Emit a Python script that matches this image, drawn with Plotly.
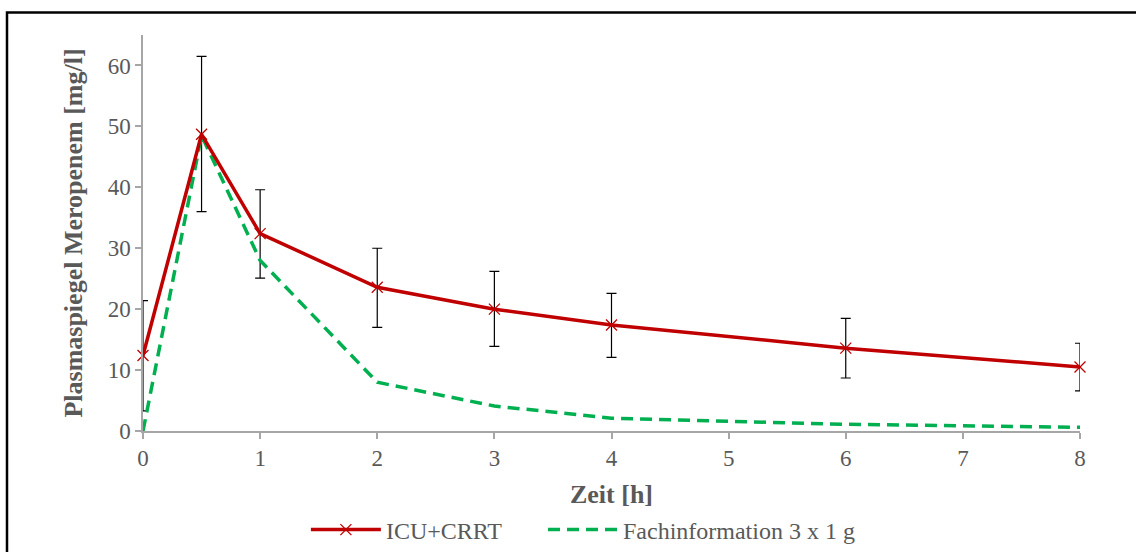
import plotly.graph_objects as go

time_h = [0, 0.5, 1, 2, 3, 4, 6, 8]
icu_crrt = [12.4, 48.7, 32.4, 23.6, 20.0, 17.4, 13.6, 10.5]
icu_upper = [21.4, 61.5, 39.6, 30.0, 26.2, 22.6, 18.5, 14.4]
icu_lower = [3.3, 36.0, 25.1, 17.0, 13.9, 12.1, 8.7, 6.6]
fachinfo = [0, 48.5, 28.0, 8.0, 4.1, 2.1, 1.1, 0.6]

err_plus = [u - v for u, v in zip(icu_upper, icu_crrt)]
err_minus = [v - l for v, l in zip(icu_crrt, icu_lower)]

RED = "#c00000"
GREEN = "#00b050"
GREY_TXT = "#595959"
AXIS = "#a6a6a6"
FONT = "Liberation Serif"
NBSP = "\u00a0"

fig = go.Figure()

# error bars (first point clipped by the axis like in the original)
for idx, clip in ((slice(0, 1), True), (slice(1, None), False)):
    fig.add_trace(go.Scatter(
        x=time_h[idx], y=icu_crrt[idx], mode="markers",
        marker=dict(color="rgba(0,0,0,0)", size=1),
        error_y=dict(type="data", symmetric=False,
                     array=err_plus[idx], arrayminus=err_minus[idx],
                     color="black", thickness=1.2, width=5),
        cliponaxis=clip, showlegend=False, hoverinfo="skip"))

fig.add_trace(go.Scatter(
    x=time_h, y=fachinfo, mode="lines", name="Fachinformation 3 x 1 g",
    line=dict(color=GREEN, width=3.5, dash="12px,7px"),
    cliponaxis=False, legendrank=2))

fig.add_trace(go.Scatter(
    x=time_h, y=icu_crrt, mode="lines+markers", name="ICU+CRRT" + NBSP * 6,
    line=dict(color=RED, width=3.5),
    marker=dict(symbol="x-thin", size=11, line=dict(color=RED, width=1.3), color=RED),
    cliponaxis=False, legendrank=1))

fig.update_layout(
    width=1136, height=552,
    margin=dict(l=143, r=56, t=35, b=121, autoexpand=False),
    paper_bgcolor="white", plot_bgcolor="white",
    font=dict(family=FONT, size=24, color=GREY_TXT),
    showlegend=True,
    legend=dict(orientation="h", x=0.47, xanchor="center", y=-0.25, yanchor="middle",
                font=dict(family=FONT, size=24, color=GREY_TXT),
                itemwidth=70, bgcolor="rgba(0,0,0,0)"),
    xaxis=dict(range=[0, 8], tickvals=[0, 1, 2, 3, 4, 5, 6, 7, 8],
               showgrid=False, zeroline=False, showline=True, linecolor=AXIS, linewidth=1.5,
               ticks="outside", ticklen=6, tickcolor=AXIS, tickwidth=1.5,
               tickfont=dict(family=FONT, size=23, color=GREY_TXT),
               title=dict(text="<b>Zeit [h]</b>", standoff=14,
                          font=dict(family=FONT, size=26, color=GREY_TXT))),
    yaxis=dict(range=[0, 65], tickvals=[0, 10, 20, 30, 40, 50, 60],
               showgrid=False, zeroline=False, showline=True, linecolor=AXIS, linewidth=1.5,
               ticks="outside", ticklen=6, tickcolor=AXIS, tickwidth=1.5,
               tickfont=dict(family=FONT, size=23, color=GREY_TXT),
               title=dict(text="<b>Plasmaspiegel Meropenem [mg/l]</b>", standoff=18,
                          font=dict(family=FONT, size=26, color=GREY_TXT))),
    shapes=[dict(type="rect", xref="paper", yref="paper",
                 x0=(7 - 143) / 937, x1=1.2, y0=-0.5, y1=(431 - 12.5) / 396,
                 line=dict(color="black", width=2.5), fillcolor="rgba(0,0,0,0)",
                 layer="below")],
)

fig.write_html("out.html")
